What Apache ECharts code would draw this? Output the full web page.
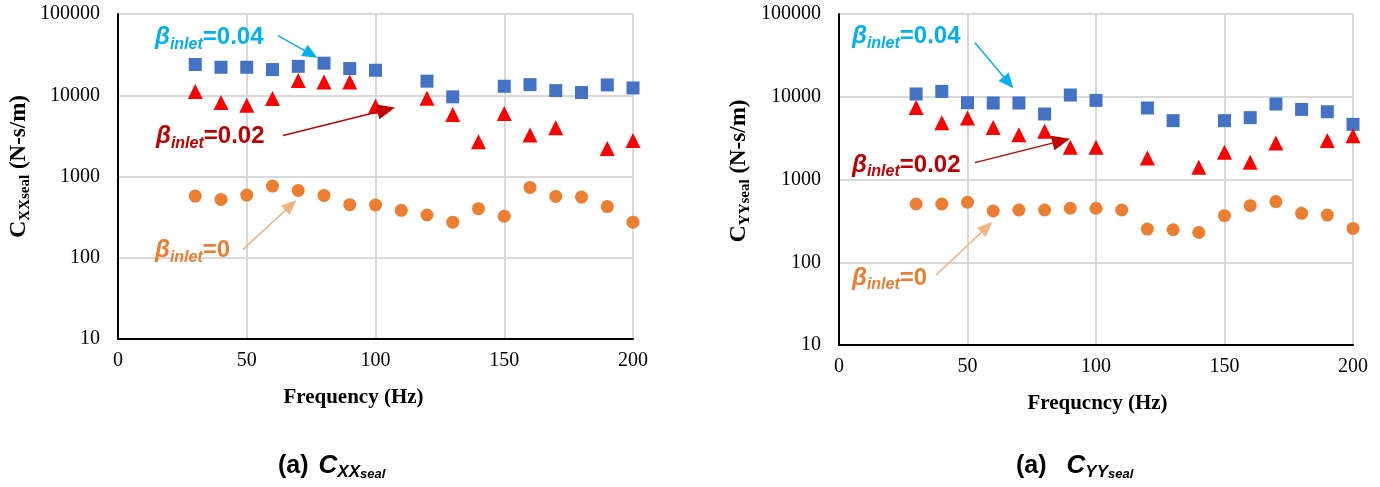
<!DOCTYPE html>
<html>
<head>
<meta charset="utf-8">
<script src="https://cdn.jsdelivr.net/npm/echarts@6/dist/echarts.min.js"></script>
<style>
html,body{margin:0;padding:0;background:#fff;}
#chart{width:1380px;height:487px;}
</style>
</head>
<body>
<div id="chart"></div>
<script>
// ---- data ----
const freq = [30,40,50,60,70,80,90,100,110,120,130,140,150,160,170,180,190,200];
const cxx004 = [23900,22100,22100,20700,22700,24800,21300,20300,null,14900,9560,null,12900,13500,11400,10800,13400,12300];
const cxx002 = [11100,8130,7540,9110,15200,14600,14600,7330,null,9190,5790,2670,5960,3250,3970,null,2210,2770];
const cxx0   = [574,522,591,762,674,585,450,446,383,336,274,402,324,733,569,558,426,274];
const cyy004 = [10800,11600,8470,8400,8400,6190,10500,9030,null,7310,5140,null,5140,5590,8170,7030,6590,4640];
const cyy002 = [7430,4860,5530,4260,3480,3820,2450,2450,null,1820,null,1410,2130,1620,2770,null,2950,3370];
const cyy0   = [506,506,531,416,428,428,449,449,428,252,247,229,365,483,541,390,372,256];
const xTicks = [0,50,100,150,200];
const yTicks = [10,100,1000,10000,100000];
const labels = ['0.04','0.02','0'];

function pairs(vals){ const out=[]; vals.forEach((v,i)=>{ if(v!=null) out.push([freq[i], v]); }); return out; }

const C_BLUE='#4472C4', C_RED='#FF0000', C_ORANGE='#ED7D31';
const C_L004='#00B0F0', C_L002='#C00000', C_L0='#ED7D31', C_A0='#F4B183';

function xAxisDef(gi){
  return {gridIndex:gi,type:'value',min:xTicks[0],max:xTicks[xTicks.length-1],interval:xTicks[1]-xTicks[0],
    axisLine:{show:true,onZero:false,lineStyle:{color:'#000',width:2}},axisTick:{show:false},
    axisLabel:{fontFamily:'Liberation Serif',fontSize:20,color:'#000',margin:12},
    splitLine:{show:true,lineStyle:{color:'#d9d9d9',width:2}}};
}
function yAxisDef(gi){
  return {gridIndex:gi,type:'log',logBase:10,min:yTicks[0],max:yTicks[yTicks.length-1],
    axisLine:{show:true,lineStyle:{color:'#000',width:2}},axisTick:{show:false},
    minorTick:{show:false},minorSplitLine:{show:false},
    axisLabel:{fontFamily:'Liberation Serif',fontSize:20,color:'#000',margin:18,formatter:v=>String(Math.round(v))},
    splitLine:{show:true,lineStyle:{color:'#d9d9d9',width:2}}};
}
function arrow(color,width,size,from,to){
  return {silent:true,symbol:['none','triangle'],symbolSize:size,animation:false,precision:6,
    lineStyle:{color:color,width:width,type:'solid',opacity:1},
    itemStyle:{color:color},
    label:{show:false},
    data:[[{coord:from,symbol:'none'},{coord:to,symbol:'triangle',symbolSize:size,itemStyle:{color:color}}]]};
}
function sc(gi,name,vals,symbol,size,color,ml){
  const s={type:'scatter',name:name,xAxisIndex:gi,yAxisIndex:gi,data:pairs(vals),symbol:symbol,symbolSize:size,
    itemStyle:{color:color,opacity:1},emphasis:{disabled:true},z:3};
  if(ml) s.markLine=ml;
  return s;
}
const FS='Liberation Sans';
function betaText(x,y,col,val){
  return {type:'text',x:x,y:y,z:10,style:{text:'{b|β}{s|inlet}{t|='+val+'}',align:'left',verticalAlign:'middle',
    rich:{
      b:{fontFamily:FS,fontSize:24,fontWeight:'bold',fontStyle:'italic',fill:col,lineHeight:30,verticalAlign:'middle'},
      s:{fontFamily:FS,fontSize:16,fontWeight:'bold',fontStyle:'italic',fill:col,lineHeight:20,verticalAlign:'bottom'},
      t:{fontFamily:FS,fontSize:24,fontWeight:'bold',fill:col,lineHeight:30,verticalAlign:'middle'}
    }}};
}
function yTitle(x,y,sub){
  return {type:'text',x:x,y:y,rotation:Math.PI/2,z:10,style:{text:'{c|C}{x|'+sub+'seal}{t| (N-s/m)}',align:'center',verticalAlign:'middle',
    rich:{
      c:{fontFamily:'Liberation Serif',fontSize:24,fontWeight:'bold',fill:'#000',lineHeight:28,verticalAlign:'middle'},
      x:{fontFamily:'Liberation Serif',fontSize:15,fontWeight:'bold',fill:'#000',lineHeight:21,verticalAlign:'bottom'},
      t:{fontFamily:'Liberation Serif',fontSize:23,fontWeight:'bold',fill:'#000',lineHeight:28,verticalAlign:'middle'}
    }}};
}
function xTitle(x,y,txt){
  return {type:'text',x:x,y:y,z:10,style:{text:txt,align:'center',verticalAlign:'middle',
    fontFamily:'Liberation Serif',fontSize:21,fontWeight:'bold',fill:'#000'}};
}
function caption(x,y,sub,gap){
  return {type:'text',x:x,y:y,z:10,style:{text:'{a|(a)}{c|C}{x|'+sub+'}{s|seal}',align:'left',verticalAlign:'middle',
    rich:{
      a:{fontFamily:FS,fontSize:25,fontWeight:'bold',fill:'#000',lineHeight:30,verticalAlign:'middle'},
      c:{fontFamily:FS,fontSize:26,fontWeight:'bold',fontStyle:'italic',fill:'#000',lineHeight:30,verticalAlign:'middle',padding:[0,0,0,gap]},
      x:{fontFamily:FS,fontSize:17,fontWeight:'bold',fontStyle:'italic',fill:'#000',lineHeight:22,verticalAlign:'bottom'},
      s:{fontFamily:FS,fontSize:13,fontWeight:'bold',fontStyle:'italic',fill:'#000',lineHeight:18,verticalAlign:'bottom'}
    }}};
}

const option={
  animation:false,
  backgroundColor:'#fff',
  grid:[{left:118,top:14,width:515,height:325},{left:839,top:14,width:514,height:331}],
  xAxis:[xAxisDef(0),xAxisDef(1)],
  yAxis:[yAxisDef(0),yAxisDef(1)],
  series:[
    sc(0,'Cxx β=0.04',cxx004,'rect',13,C_BLUE,arrow(C_L004,1.5,[13,15],[62.1,54200],[74.9,32100])),
    sc(0,'Cxx β=0.02',cxx002,'triangle',15,C_RED,arrow(C_L002,1.5,[15,18],[64.1,3190],[104.2,6640])),
    sc(0,'Cxx β=0',cxx0,'circle',13,C_ORANGE,arrow(C_A0,1.5,[13,15],[48.5,126],[67.1,443])),
    sc(1,'Cyy β=0.04',cyy004,'rect',13,C_BLUE,arrow(C_L004,1.5,[13,15],[52.9,44800],[65.95,14900])),
    sc(1,'Cyy β=0.02',cyy002,'triangle',15,C_RED,arrow(C_L002,1.5,[15,18],[52.9,1600],[86.5,2930])),
    sc(1,'Cyy β=0',cyy0,'circle',13,C_ORANGE,arrow(C_A0,1.5,[13,15],[37.7,69.7],[57.5,265]))
  ],
  graphic:[
    betaText(155,37.5,C_L004,labels[0]),
    betaText(156,136.5,C_L002,labels[1]),
    betaText(155,250.5,C_L0,labels[2]),
    betaText(852,36.3,C_L004,labels[0]),
    betaText(852,165,C_L002,labels[1]),
    betaText(852,278,C_L0,labels[2]),
    yTitle(19,166.5,'XX'),
    yTitle(739,171,'YY'),
    xTitle(353.5,397.5,'Frequency (Hz)'),
    xTitle(1097.5,404,'Frequcncy (Hz)'),
    caption(278,466,'XX',10),
    caption(1016,466,'YY',20)
  ]
};
const chart=echarts.init(document.getElementById('chart'),null,{renderer:'canvas'});
chart.setOption(option);
</script>
</body>
</html>
